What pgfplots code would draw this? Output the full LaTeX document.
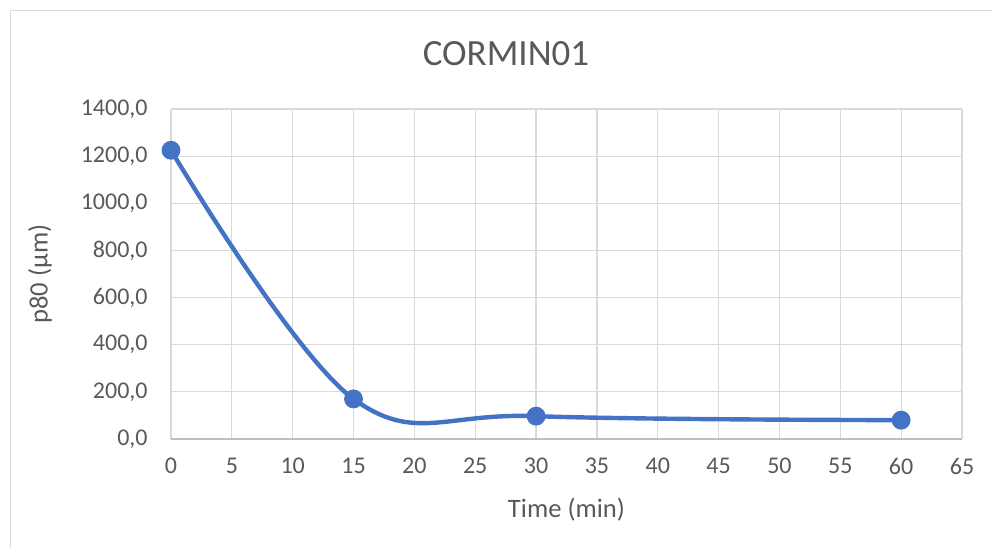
\documentclass[border=0pt]{standalone}
\usepackage{pgfplots}
\pgfplotsset{compat=1.18}
\usepackage{fontspec}
\setmainfont{Carlito}
\definecolor{txt}{HTML}{595959}
\definecolor{grd}{HTML}{D9D9D9}
\definecolor{ser}{HTML}{4472C4}
\definecolor{frm}{HTML}{D9D9D9}
\begin{document}
\begin{tikzpicture}
\useasboundingbox (0pt,0pt) rectangle (496pt,274pt);
\draw[frm,line width=0.5pt] (5pt,0pt) -- (5pt,269pt) -- (496pt,269pt);
\begin{axis}[
  at={(85.5pt,54.5pt)}, anchor=south west,
  scale only axis, width=395.5pt, height=165pt,
  xmin=0, xmax=65, ymin=0, ymax=1400,
  xtick={0,5,...,65}, ytick={0,200,...,1400},
  grid=major, major grid style={grd, line width=0.6pt},
  axis x line=bottom, axis y line=left,
  x axis line style={draw=gray!50, line width=0.6pt, -},
  y axis line style={draw=none},
  major tick length=0pt,
  tick label style={font=\fontsize{12}{14}\selectfont, text=txt},
  /pgf/number format/assume math mode=true,
  yticklabel={\pgfmathprintnumber[fixed,fixed zerofill,precision=1,use comma,1000 sep={}]{\tick}},
  xticklabel style={anchor=center, yshift=-13.5pt},
  yticklabel style={anchor=east, inner sep=0pt, xshift=-11.5pt},
  title={CORMIN01},
  title style={font=\fontsize{18.5}{21}\selectfont, text=txt, at={(rel axis cs:0.4235,1.13)}, anchor=center},
  xlabel={Time (min)},
  xlabel style={font=\fontsize{13.3}{15}\selectfont, text=txt, at={(rel axis cs:0.5,-0.215)}, anchor=center},
  ylabel={p80 (µm)},
  ylabel style={font=\fontsize{13.3}{15}\selectfont, text=txt, at={(rel axis cs:-0.1656,0.5)}, anchor=center, rotate=0},
  clip=false,
]
\addplot[ser, line width=2.2pt, smooth, tension=0.6, mark=*, mark size=3.6pt, mark options={fill=ser, draw=ser}]
  coordinates {(0,1225) (15,170) (30,97) (60,80)};
\end{axis}
\end{tikzpicture}
\end{document}
